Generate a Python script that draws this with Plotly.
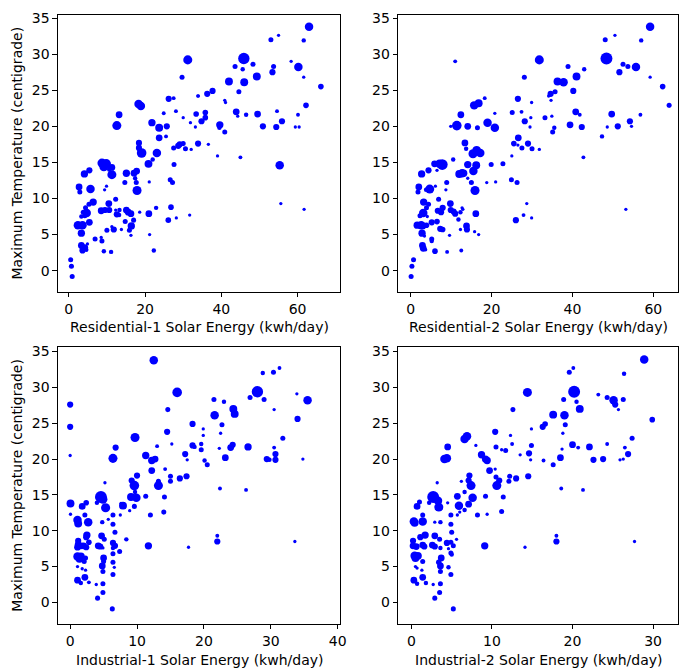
import plotly.graph_objects as go

# ---------------- data ----------------
# Panel 1: Residential-1
res1_x = [31.2, 29.7, 18.3, 18.9, 13.2, 12.6, 26.2, 27.5, 24.9, 28.1, 30.0, 34.0, 33.4, 34.8, 31.9, 33.2,
          21.8, 23.7, 25.7, 23.7, 25.5, 18.4, 18.4, 19.1, 23.1, 22.0, 20.9, 27.5, 28.7, 29.1, 30.0, 30.6,
          32.1, 33.9, 27.6, 8.7, 9.8, 9.2, 11.3, 11.3, 10.6, 5.4, 4.1, 15.1, 17.1, 17.8, 17.4, 14.7,
          17.7, 17.9, 21.1, 26.6, 27.2, 2.7, 2.9, 5.7, 9.9, 9.4, 12.3, 6.4, 5.3, 4.4, 10.5, 8.5,
          9.5, 10.6, 12.3, 13.3, 12.6, 15.1, 15.6, 16.3, 13.2, 18.6, 21.0, 22.9, 26.8, 26.1, 28.2, 31.7,
          4.7, 3.8, 4.2, 3.3, 5.4, 2.4, 3.6, 17.0, 14.8, 16.4, 15.9, 16.3, 10.0, 11.3, 11.8, 13.8,
          3.3, 6.9, 4.9, 3.3, 4.2, 3.6, 4.6, 8.7, 8.5, 9.2, 11.1, 21.2, 22.3, 0.5, 0.7, 0.9,
          63.0, 55.0, 53.0, 61.6, 45.9, 48.3, 43.6, 45.6, 53.7, 53.4, 58.3, 60.2, 61.6, 66.1, 42.0, 46.0,
          49.3, 44.6, 37.7, 36.3, 33.8, 40.9, 41.1, 35.8, 35.8, 36.6, 39.6, 39.5, 40.9, 43.9, 44.3, 46.5,
          49.5, 50.9, 54.4, 54.6, 55.9, 60.1, 59.4, 60.4, 62.2, 39.0, 45.0, 55.3, 55.6, 61.7]
res1_t = [29.2, 26.8, 23.1, 22.8, 21.6, 20.1, 23.8, 23.9, 21.8, 22.1, 21.2, 24.2, 21.7, 20.7, 20.5, 19.9,
          20.5, 19.8, 20.0, 18.4, 18.6, 17.7, 17.0, 16.3, 16.3, 15.4, 14.8, 17.0, 17.3, 17.5, 17.6, 16.9,
          16.8, 17.6, 14.7, 14.9, 14.8, 14.4, 14.3, 13.3, 14.0, 13.9, 13.4, 13.5, 13.5, 13.8, 12.8, 12.2,
          12.2, 11.1, 12.3, 12.6, 12.2, 11.6, 10.9, 11.3, 11.7, 11.2, 9.9, 9.5, 9.2, 8.7, 9.3, 8.3,
          8.4, 8.4, 8.4, 8.4, 7.8, 8.4, 8.1, 7.9, 7.7, 8.1, 7.9, 8.7, 8.8, 7.0, 7.3, 7.7,
          8.0, 8.1, 7.6, 7.5, 6.7, 6.3, 6.3, 7.0, 6.8, 6.2, 5.6, 4.9, 5.6, 6.1, 5.7, 5.7,
          5.2, 4.4, 3.7, 3.5, 3.2, 2.8, 2.9, 4.1, 4.6, 2.7, 2.6, 5.0, 2.8, 1.5, 0.6, -0.8,
          33.8, 32.6, 32.0, 31.9, 29.4, 28.6, 28.3, 27.9, 28.3, 27.5, 29.0, 28.2, 26.8, 25.5, 26.2, 26.1,
          26.9, 24.8, 24.9, 24.5, 24.2, 23.6, 23.3, 21.9, 21.2, 17.5, 20.2, 19.8, 19.2, 22.0, 21.4, 21.6,
          21.7, 20.0, 19.9, 22.1, 20.7, 21.6, 19.9, 19.9, 22.9, 15.9, 15.7, 14.6, 9.3, 8.5]
res1_s = [7, 3.5, 6.5, 6.5, 5, 7, 4.5, 2.5, 2.5, 2.5, 2, 2, 4, 4.5, 2, 2,
          5.5, 6, 4.5, 5, 2.5, 4.5, 4.5, 7.5, 6.5, 3, 6, 3.5, 4.5, 4.5, 3.5, 3.5,
          2, 4.5, 3.5, 7, 7.5, 7, 5, 7, 3, 4.5, 5.5, 5.5, 5, 5, 3, 3.5,
          3.5, 7, 2, 3.5, 3.5, 5, 3.5, 6.5, 2, 2, 3.5, 5.5, 3.5, 3.5, 5, 5,
          4.5, 4.5, 2, 3, 4.5, 5, 5, 5, 3, 2, 5, 3, 4, 4, 2, 2,
          6.5, 3.5, 3.5, 3, 5, 6.5, 6.5, 3.5, 3.5, 5.5, 3.5, 2, 3.5, 2, 4.5, 2,
          5.5, 3.5, 2, 5, 5, 4.5, 3, 3.5, 2, 3, 3, 2, 3, 3.5, 3.5, 3.5,
          6.5, 2, 3.5, 3, 9, 3.5, 3.5, 3, 3.5, 4.5, 2, 6.5, 2, 4, 6, 6,
          6, 3.5, 4.5, 4.5, 2, 2, 2, 4, 4, 2, 5.5, 3, 3.5, 5, 2, 3,
          5, 4.5, 4.5, 2.5, 4.5, 2.5, 2, 2, 4, 2, 2.5, 6.5, 2, 2]

# Panel 2: Residential-2
res2_x = [31.8, 11.0, 28.1, 18.3, 15.7, 16.8, 12.4, 20.8, 26.5, 29.9, 25.1, 27.4, 28.2, 29.7, 29.5, 11.4,
          9.9, 14.1, 16.5, 19.0, 20.8, 26.6, 25.5, 26.5, 29.0, 27.5, 30.0, 31.8, 25.0, 13.4, 13.7, 15.4,
          16.3, 17.2, 10.5, 7.8, 7.1, 5.9, 6.5, 14.1, 16.2, 15.5, 19.9, 22.8, 4.4, 2.7, 12.0, 12.7,
          13.1, 14.1, 15.0, 8.9, 18.8, 21.0, 24.9, 26.3, 15.9, 2.0, 1.8, 4.7, 3.8, 6.1, 8.7, 6.9,
          3.2, 4.4, 3.9, 9.8, 6.7, 7.9, 7.5, 9.9, 10.6, 11.0, 12.7, 12.9, 12.3, 11.8, 16.1, 3.1,
          2.3, 4.1, 1.6, 2.6, 3.0, 3.9, 5.2, 6.5, 13.8, 13.9, 12.3, 15.8, 16.8, 7.3, 7.9, 9.6,
          2.8, 3.4, 5.2, 5.2, 2.9, 3.1, 3.7, 6.0, 9.0, 12.5, 0.7, 0.3, 0.1, 26.0, 27.9, 29.9,
          28.7, 59.2, 50.5, 48.1, 57.0, 48.4, 52.5, 53.7, 55.7, 51.6, 38.9, 42.9, 59.2, 41.0, 36.3, 37.8,
          62.3, 63.9, 40.2, 35.7, 34.6, 34.1, 34.7, 40.8, 41.8, 33.2, 34.9, 49.7, 56.8, 54.2, 54.6, 51.2,
          48.6, 39.4, 42.3, 35.5, 35.1, 47.3, 42.7, 53.2]
res2_t = [29.2, 29.0, 26.8, 23.9, 22.9, 23.2, 21.6, 21.8, 23.8, 23.3, 21.9, 22.0, 20.7, 21.2, 19.9, 20.1,
          20.0, 20.0, 19.8, 20.5, 19.8, 18.4, 17.6, 17.4, 17.6, 17.0, 16.9, 16.8, 15.9, 17.7, 16.9, 16.2,
          16.7, 16.3, 15.4, 14.7, 14.8, 14.8, 13.9, 14.7, 14.6, 13.8, 14.7, 14.8, 13.9, 13.4, 13.4, 13.5,
          13.5, 12.8, 12.2, 12.2, 12.2, 12.3, 12.6, 12.2, 11.1, 11.6, 10.9, 11.3, 11.2, 11.7, 11.2, 9.9,
          9.5, 9.2, 8.7, 9.3, 8.3, 8.7, 8.1, 8.4, 8.2, 7.9, 8.7, 8.5, 8.1, 7.1, 7.9, 8.0,
          7.6, 7.5, 6.3, 6.3, 6.2, 6.3, 6.7, 6.8, 6.2, 5.7, 5.7, 5.4, 5.0, 5.8, 5.7, 4.9,
          5.2, 4.8, 4.4, 4.1, 3.5, 3.1, 2.9, 2.7, 2.6, 2.8, 1.5, 0.6, -0.8, 7.0, 7.7, 7.3,
          9.3, 33.8, 32.6, 32.0, 31.9, 29.4, 28.6, 28.3, 28.2, 27.5, 28.3, 27.9, 26.8, 26.9, 26.2, 26.1,
          25.5, 22.9, 24.9, 24.8, 24.5, 24.2, 23.6, 22.0, 21.6, 21.2, 21.4, 21.7, 21.6, 20.7, 20.0, 20.0,
          19.9, 20.2, 19.9, 19.8, 19.2, 18.6, 15.7, 8.5]
res2_s = [7, 2.5, 3.5, 2.5, 6.5, 6, 5, 2, 4.5, 2, 3.5, 2.5, 4.5, 2, 2, 7.5,
          2, 5, 3.5, 6.5, 6.5, 5, 4, 2, 4.5, 3.5, 3.5, 2, 2, 5, 3, 7,
          6.5, 6.5, 3, 8.5, 6.5, 5, 2, 5.5, 6, 6.5, 3.5, 3.5, 4.5, 5.5, 6, 6.5,
          5.5, 2, 3.5, 3.5, 2, 2, 3.5, 3.5, 7, 5, 3.5, 7, 3, 2, 2, 3.5,
          5.5, 3.5, 3.5, 5, 4.5, 4.5, 4.5, 4.5, 4.5, 4.5, 2, 2, 3, 3, 5, 6.5,
          3.5, 2, 5.5, 6.5, 5, 4, 4.5, 4, 5, 4.5, 2, 2, 2, 4.5, 4, 2,
          5.5, 2, 3.5, 3, 5, 5, 2, 4, 2.5, 2.5, 3.5, 3.5, 3.5, 4.5, 2.5, 2,
          2, 6.5, 2, 3.5, 3, 9.5, 3.5, 3.5, 6.5, 4.5, 3.5, 3, 2, 6, 6, 6.5,
          4, 3.5, 4.5, 3.5, 4.5, 2, 2, 5, 2.5, 3.5, 2, 5, 2.5, 4.5, 2, 4.5,
          2, 5, 4.5, 3, 3.5, 3, 2.5, 2]

# Panel 3: Industrial-1
ind1_x = [12.5, 16.0, 14.6, 0.0, 0.0, 0.0, 9.7, 6.8, 6.4, 11.3, 12.2, 12.7, 13.0, 14.5, 15.2, 18.3,
          18.3, 18.6, 19.6, 17.2, 17.5, 12.2, 14.2, 10.0, 9.2, 9.6, 9.7, 9.1, 9.9, 13.2, 13.2, 14.1,
          15.0, 15.0, 16.4, 17.4, 11.3, 5.2, 4.6, 4.9, 4.0, 5.3, 0.05, 1.8, 2.4, 7.9, 7.6, 9.6,
          8.9, 14.0, 12.0, 6.4, 7.5, 0.05, 2.2, 1.1, 1.2, 2.7, 4.8, 5.7, 6.4, 6.7, 2.5, 2.4,
          4.7, 5.1, 1.2, 1.2, 1.6, 1.1, 2.0, 2.4, 2.8, 4.2, 4.5, 4.9, 6.4, 6.7, 6.4, 8.4,
          7.4, 11.7, 17.7, 1.1, 1.6, 1.4, 2.3, 2.1, 5.0, 5.0, 4.8, 6.4, 6.4, 6.6, 1.1, 1.8,
          2.3, 4.9, 6.4, 2.2, 1.1, 1.6, 2.8, 3.9, 4.9, 4.9, 4.1, 6.3, 31.3, 30.4, 28.8, 28.0,
          26.9, 21.5, 23.0, 29.0, 33.9, 35.5, 30.5, 24.4, 24.6, 21.6, 34.0, 22.7, 19.9, 19.9, 22.5, 31.8,
          19.6, 22.3, 24.0, 24.3, 26.6, 30.5, 30.7, 29.4, 29.8, 30.7, 34.8, 20.1, 20.5, 23.2, 22.4, 26.3,
          22.0, 22.0, 33.6]
ind1_t = [33.8, 29.3, 26.9, 27.6, 24.5, 20.5, 23.0, 21.6, 20.1, 20.5, 19.8, 20.0, 21.8, 23.8, 22.1, 24.9,
          21.9, 21.7, 21.3, 20.7, 19.9, 18.4, 18.6, 17.7, 17.0, 16.3, 15.4, 14.7, 14.6, 16.3, 16.9, 14.7,
          17.6, 16.9, 17.3, 17.6, 14.8, 16.7, 14.7, 14.4, 13.9, 13.2, 13.8, 13.4, 13.9, 13.5, 13.8, 13.4,
          12.8, 12.6, 12.2, 12.2, 12.2, 12.3, 12.2, 11.5, 11.0, 11.2, 11.2, 11.6, 10.9, 9.8, 9.4, 9.1,
          9.3, 8.8, 8.6, 8.1, 7.9, 7.7, 7.9, 7.7, 8.4, 7.9, 7.8, 7.6, 8.3, 7.9, 7.6, 8.8,
          7.1, 7.9, 7.7, 6.4, 6.4, 6.1, 6.2, 5.7, 6.2, 5.7, 5.1, 6.8, 5.6, 4.9, 5.0, 4.7,
          4.5, 4.3, 3.9, 3.5, 3.1, 2.7, 2.8, 2.5, 2.6, 1.4, 0.6, -0.9, 32.7, 32.1, 32.0, 29.4,
          28.6, 28.3, 28.0, 28.3, 29.1, 28.2, 26.9, 27.0, 26.3, 26.1, 25.6, 24.8, 24.2, 23.3, 23.6, 22.9,
          22.1, 21.5, 21.6, 22.0, 21.7, 21.6, 20.7, 20.0, 19.9, 19.9, 20.0, 19.8, 19.2, 20.2, 15.9, 15.7,
          9.3, 8.5, 8.5]
ind1_s = [6.5, 7.5, 3.5, 4.5, 4.5, 2, 7, 4.5, 7, 5.5, 5.5, 5, 2.5, 4.5, 2, 4.5,
          4.5, 3, 3.5, 4.5, 2, 5, 2.5, 4.5, 4.5, 7.5, 3, 6, 6.5, 7, 3.5, 3.5,
          3.5, 3.5, 4.5, 4.5, 3.5, 2, 9.5, 7, 3, 7, 6, 5, 4, 6, 2, 3.5,
          2, 3.5, 3.5, 3.5, 2, 2, 3.5, 6.5, 6, 6.5, 3, 2, 3.5, 3.5, 5.5, 4.5,
          5, 3.5, 4.5, 5, 5, 5, 5, 4.5, 4, 5, 4.5, 2, 4.5, 4.5, 3, 3,
          3.5, 5.5, 2, 6.5, 6, 6, 3.5, 3.5, 5, 3.5, 5, 3.5, 3.5, 2, 2, 2,
          2, 3.5, 3.5, 5, 5, 3, 2.5, 2, 3.5, 3.5, 3.5, 3.5, 2.5, 3.5, 3, 9,
          3.5, 3.5, 3, 3.5, 2, 6.5, 2, 6, 6, 6.5, 4.5, 3.5, 2, 2, 2, 3.5,
          3, 2, 5, 4.5, 5.5, 2.5, 4.5, 4.5, 3, 4.5, 2, 3, 3.5, 5, 2.5, 2.5,
          2.5, 4.5, 2]

# Panel 4: Industrial-2
ind2_x = [14.4, 12.6, 6.6, 6.9, 4.5, 4.1, 4.4, 10.4, 10.5, 8.0, 8.7, 9.2, 9.4, 11.2, 11.7, 12.3,
          12.5, 13.5, 14.6, 14.9, 14.8, 9.7, 10.4, 10.5, 10.9, 10.6, 12.1, 12.2, 13.0, 14.5, 7.2, 7.1,
          7.4, 6.6, 6.2, 7.6, 7.1, 9.2, 11.4, 3.2, 2.7, 3.3, 3.4, 2.2, 1.0, 0.7, 5.7, 5.9,
          4.5, 6.6, 6.0, 8.2, 9.4, 11.2, 4.9, 5.7, 1.4, 0.3, 0.4, 1.4, 2.9, 3.6, 4.9, 5.0,
          1.7, 1.1, 2.9, 3.5, 5.6, 4.9, 5.2, 4.6, 4.4, 0.2, 0.2, 0.6, 1.4, 1.6, 2.6, 2.9,
          3.6, 4.9, 5.0, 9.1, 14.1, 0.4, 0.5, 0.8, 1.4, 3.7, 3.4, 3.6, 4.6, 4.9, 0.5, 0.7,
          1.3, 3.6, 1.4, 0.3, 0.7, 1.8, 2.7, 3.6, 3.5, 2.9, 5.2, 28.9, 20.1, 19.6, 26.4, 20.2,
          23.2, 24.3, 25.1, 25.3, 26.3, 25.7, 18.9, 20.5, 20.9, 17.6, 19.0, 19.1, 16.6, 16.3, 14.9, 18.8,
          29.9, 27.4, 20.0, 20.7, 22.1, 18.7, 24.3, 26.5, 26.9, 16.4, 17.6, 18.5, 22.6, 23.8, 25.9, 26.3,
          18.6, 21.3, 18.0, 18.0, 27.7]
ind2_t = [29.3, 26.9, 22.8, 23.2, 21.7, 20.0, 20.1, 23.8, 21.7, 21.9, 20.6, 20.0, 19.8, 21.3, 21.2, 23.3,
          22.1, 20.6, 20.8, 21.9, 19.9, 18.4, 18.6, 17.5, 17.0, 16.3, 16.9, 17.6, 17.3, 17.6, 17.7, 17.0,
          16.3, 15.4, 16.9, 14.6, 13.7, 14.8, 14.7, 16.7, 14.7, 14.2, 13.3, 13.9, 14.0, 13.4, 14.8, 13.5,
          13.9, 12.9, 12.6, 12.2, 12.3, 12.7, 12.2, 12.2, 12.2, 11.3, 11.1, 11.3, 11.2, 11.2, 10.9, 9.8,
          9.4, 9.1, 9.3, 8.8, 8.8, 8.4, 7.9, 7.5, 8.3, 8.6, 7.9, 7.8, 8.0, 7.8, 8.0, 7.8,
          7.6, 6.9, 6.7, 7.9, 7.7, 6.5, 6.2, 6.5, 5.7, 6.2, 5.6, 5.1, 4.9, 3.9, 5.0, 4.8,
          4.5, 4.3, 3.5, 3.1, 2.6, 2.7, 2.5, 2.6, 1.4, 0.6, -0.9, 33.9, 32.7, 32.1, 31.9, 29.4,
          29.0, 28.6, 28.2, 27.6, 28.3, 26.9, 28.3, 28.0, 27.0, 26.2, 26.1, 24.8, 24.9, 24.5, 24.2, 23.6,
          25.5, 22.9, 22.0, 21.6, 21.7, 21.4, 22.1, 21.6, 20.7, 19.8, 19.2, 20.2, 19.9, 20.0, 19.9, 20.0,
          15.9, 15.7, 9.3, 8.5, 8.5]
ind2_s = [7, 3.5, 6.5, 6.5, 5, 6.5, 6.5, 4.5, 3.5, 2, 5.5, 5.5, 5.5, 2, 3.5, 2,
          2.5, 2, 4.5, 3.5, 2, 5, 2, 3.5, 4.5, 7, 3.5, 3.5, 4.5, 4.5, 4.5, 4.5,
          7, 3, 2, 6.5, 5, 3.5, 3.5, 2, 9.5, 6.5, 7, 3, 3.5, 5, 5, 6.5,
          2, 3, 2, 3.5, 2, 3.5, 3.5, 2, 3.5, 6.5, 6, 6.5, 2, 3, 3.5, 3.5,
          5.5, 4.5, 5, 3.5, 2, 3.5, 3.5, 2, 4.5, 4.5, 5, 5, 5, 4.5, 5, 4.5,
          3, 3.5, 3, 5.5, 2, 6.5, 6, 6, 3.5, 5, 4, 5, 3, 3.5, 2, 2,
          2, 3.5, 5, 5, 3, 3, 2, 3.5, 3.5, 3.5, 3.5, 6.5, 2.5, 3.5, 3, 9.5,
          2.5, 3.5, 6.5, 4.5, 3.5, 2, 3.5, 3, 6, 6, 6.5, 3.5, 4, 4.5, 2, 2,
          4, 3.5, 5, 2.5, 5, 2, 2.5, 2.5, 4.5, 2.5, 3.5, 5, 4.5, 4.5, 2, 2,
          2.5, 2.5, 2.5, 4.5, 2]

x_titles = ["Residential-1 Solar Energy (kwh/day)", "Residential-2 Solar Energy (kwh/day)",
            "Industrial-1 Solar Energy (kwh/day)", "Industrial-2 Solar Energy (kwh/day)"]
y_title = "Maximum Temperature (centigrade)"
y_ticks = [0, 5, 10, 15, 20, 25, 30, 35]
x_ticks = [[0, 20, 40, 60], [0, 20, 40, 60], [0, 10, 20, 30, 40], [0, 10, 20, 30]]

# ---------------- layout ----------------
OFF = 8                      # the page body has an 8 px margin
W, H = 687 - OFF, 668 - OFF  # figure size so that it fills the window
FONT = "DejaVu Sans"
FS = 14
# pixel boxes of each axes in window coordinates (left, right, top, bottom)
boxes = [(58.3, 343.3, 10.8, 289.3), (401.7, 684.0, 10.8, 289.3),
         (58.3, 343.3, 345.3, 623.3), (401.7, 684.0, 345.3, 623.3)]
x_ranges = [[-2.86, 71.2], [-3.09, 66.1], [-1.84, 40.4], [-1.64, 33.1]]
y_ranges = [[-2.9, 35.45], [-2.9, 35.45], [-2.95, 35.6], [-2.95, 35.6]]
xtitle_y = [325, 325, 660, 660]   # window pixel centre of x titles
ytitle_x = 17.5


def px(v):
    return (v - OFF) / W


def py(v):
    return 1 - (v - OFF) / H


panels = [(res1_x, res1_t, res1_s), (res2_x, res2_t, res2_s),
          (ind1_x, ind1_t, ind1_s), (ind2_x, ind2_t, ind2_s)]

fig = go.Figure()
for i, (xs, ts, ss) in enumerate(panels):
    n = "" if i == 0 else str(i + 1)
    fig.add_trace(go.Scatter(
        x=xs, y=ts, mode="markers",
        marker=dict(size=[s * 1.15 + 1.0 for s in ss], color="#0000ff", opacity=1,
                    line=dict(width=0)),
        xaxis="x" + n, yaxis="y" + n, showlegend=False, hoverinfo="x+y"))

axis_common = dict(showline=True, linecolor="black", linewidth=1, mirror=True,
                   ticks="outside", ticklen=4.5, tickwidth=1, tickcolor="black",
                   showgrid=False, zeroline=False,
                   tickfont=dict(family=FONT, size=FS, color="black"))

layout = dict(width=W, height=H, autosize=False, margin=dict(l=0, r=0, t=0, b=0),
              paper_bgcolor="white", plot_bgcolor="white",
              font=dict(family=FONT, size=FS, color="black"))
annotations = []
for i, (l, r, t, b) in enumerate(boxes):
    n = "" if i == 0 else str(i + 1)
    layout["xaxis" + n] = dict(axis_common, domain=[px(l), min(px(r), 1.0)], range=x_ranges[i],
                               tickvals=x_ticks[i], anchor="y" + n)
    layout["yaxis" + n] = dict(axis_common, domain=[py(b), py(t)], range=y_ranges[i],
                               tickvals=y_ticks, anchor="x" + n)
    annotations.append(dict(text=x_titles[i], xref="paper", yref="paper",
                            x=px((l + r) / 2), y=py(xtitle_y[i]),
                            xanchor="center", yanchor="middle", showarrow=False,
                            font=dict(family=FONT, size=FS, color="black")))
    if i % 2 == 0:
        annotations.append(dict(text=y_title, xref="paper", yref="paper",
                                x=px(ytitle_x), y=py((t + b) / 2), textangle=-90,
                                xanchor="center", yanchor="middle", showarrow=False,
                                font=dict(family=FONT, size=FS, color="black")))
layout["annotations"] = annotations

fig.update_layout(**layout)
fig.write_html("out.html", config={"responsive": False})
